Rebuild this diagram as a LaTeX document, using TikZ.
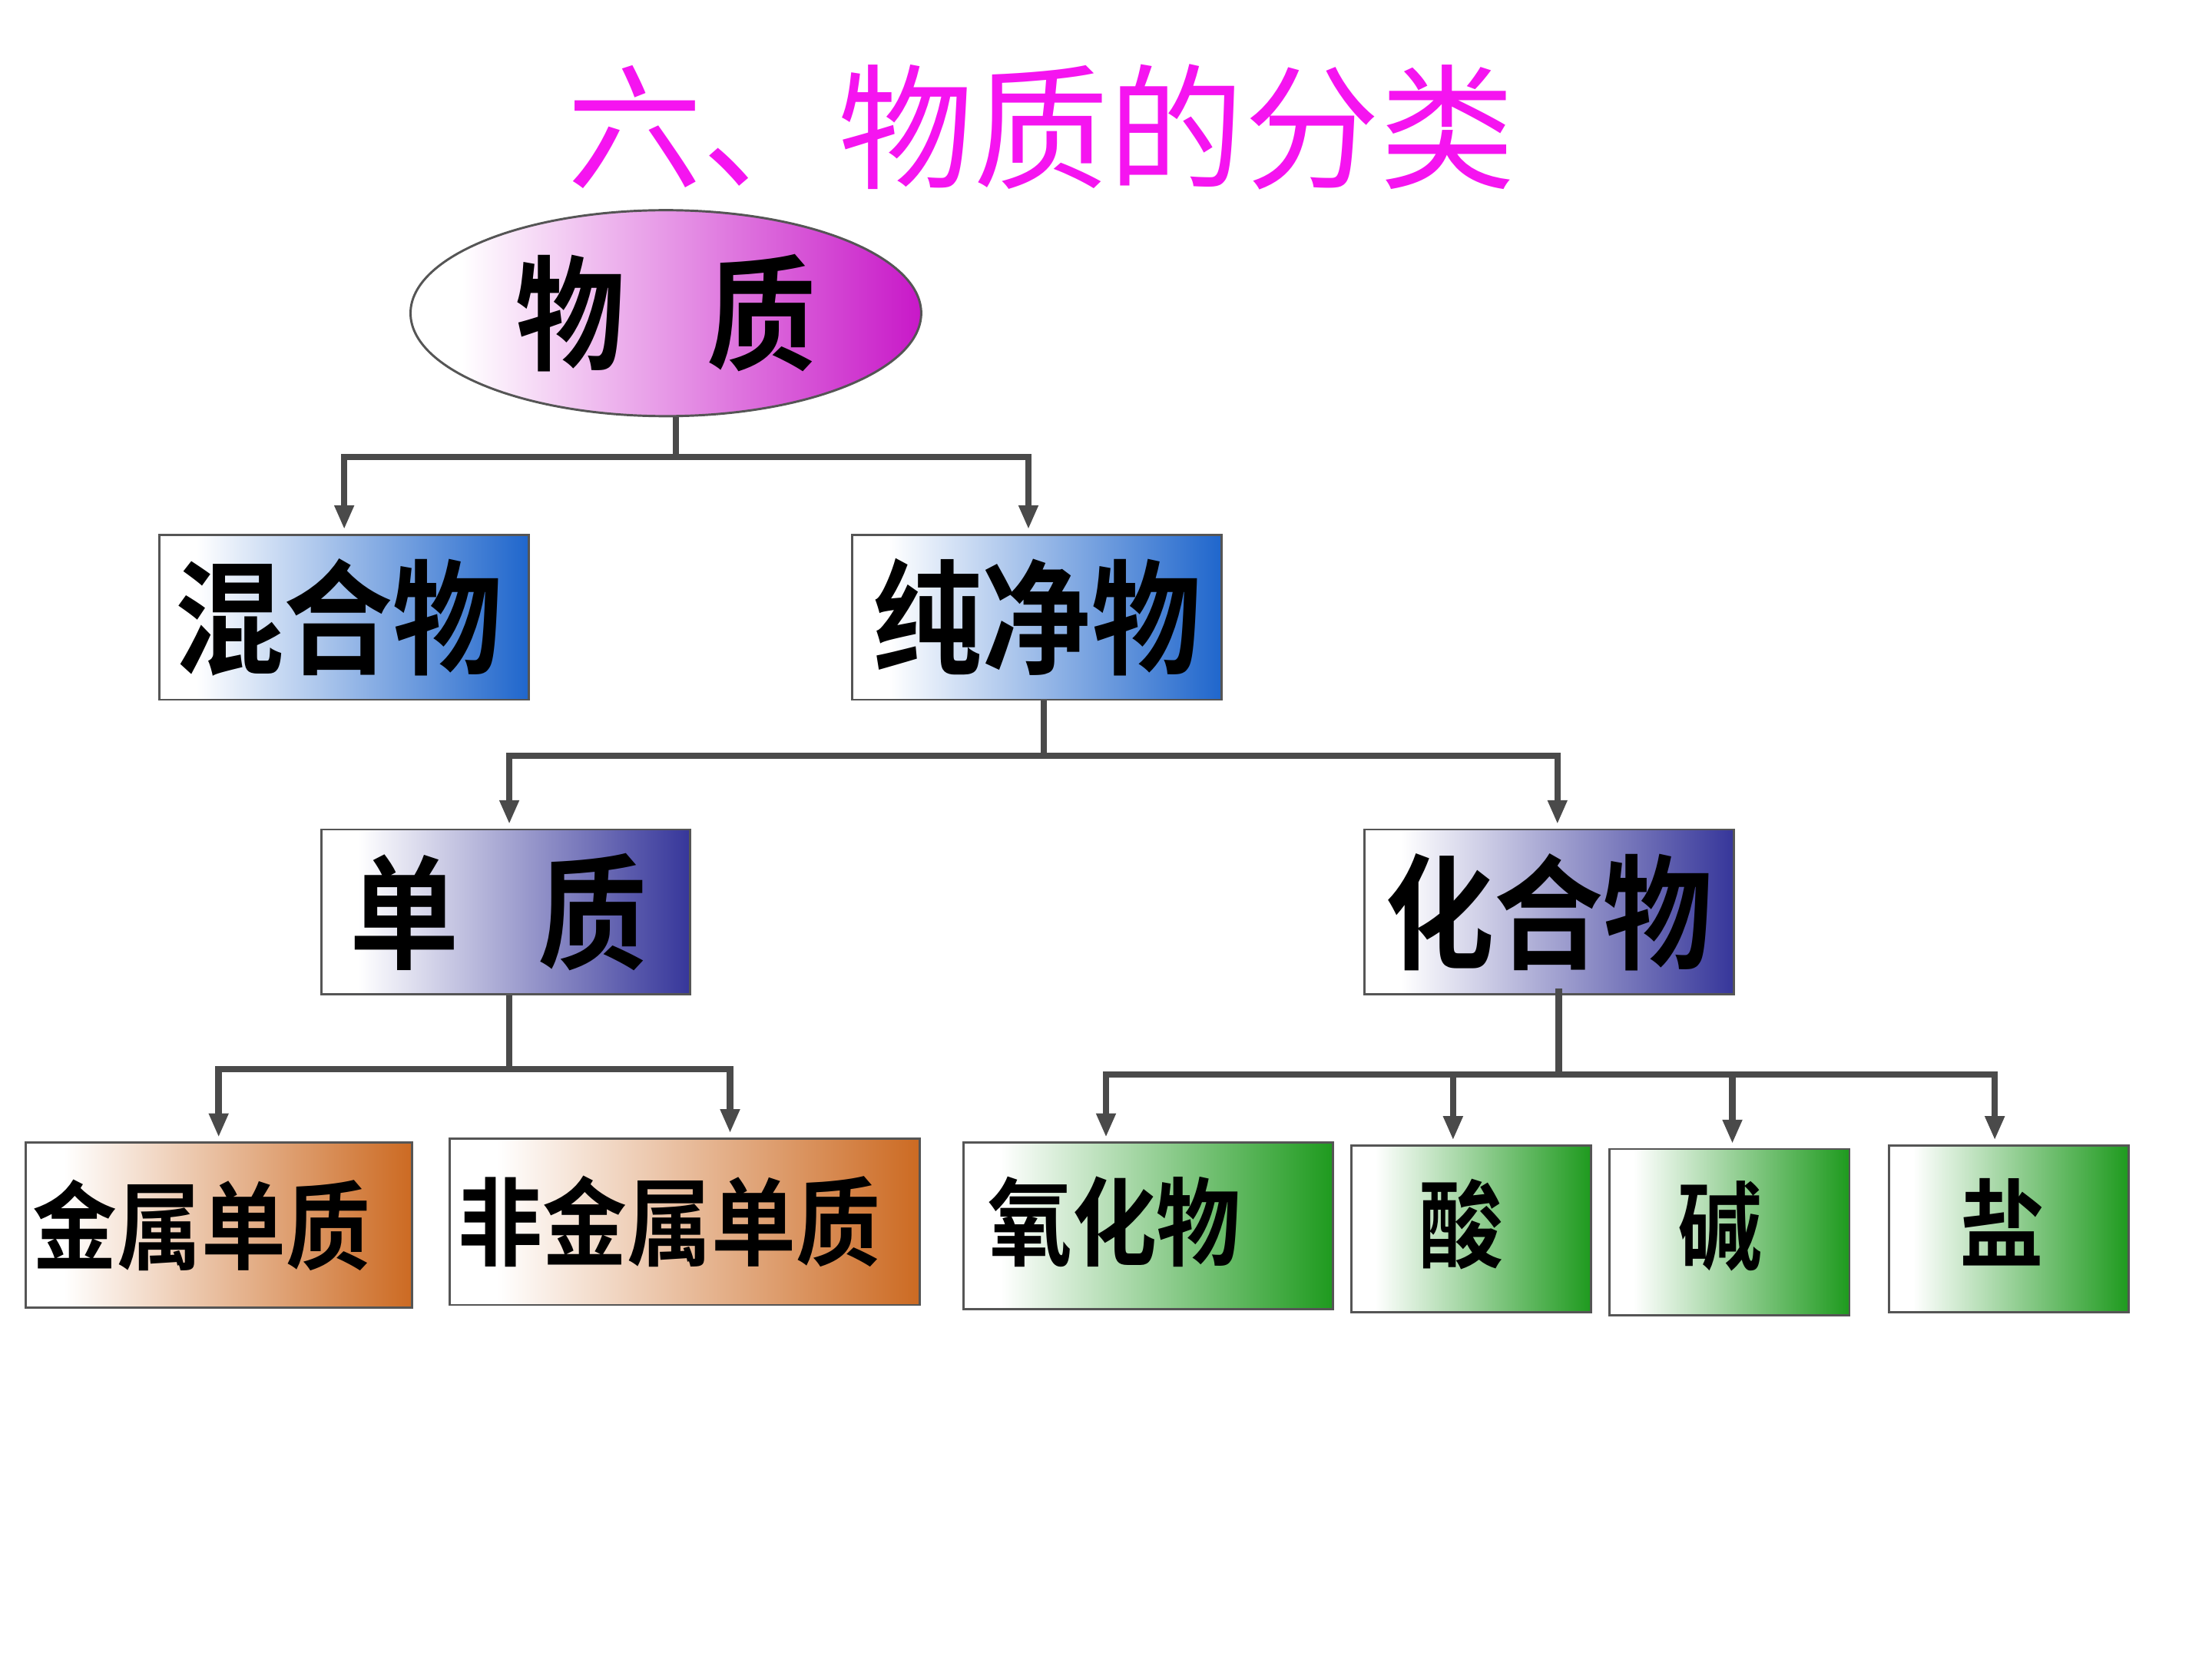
\documentclass[tikz,border=0pt]{standalone}
\usepackage{fontspec}
\usepackage{xcolor}
\newfontfamily\heiti{Noto Sans CJK SC}[BoldFont={* Bold},FakeStretch=0.88]
\newfontfamily\titlefont{Noto Sans CJK SC}
\usetikzlibrary{positioning,arrows.meta,shapes.geometric}
\definecolor{linegray}{HTML}{4A4A4A}
\definecolor{framegray}{HTML}{555555}
\definecolor{titlemag}{HTML}{F514F0}
\definecolor{matmag}{HTML}{C818C8}
\definecolor{pureblue}{HTML}{1F66CC}
\definecolor{indigo}{HTML}{36369A}
\definecolor{rust}{HTML}{CC6A22}
\definecolor{leaf}{HTML}{1E9A1E}
\colorlet{tint}{white}
\pgfdeclarehorizontalshading[tint]{fade}{100bp}{color(0bp)=(white); color(30bp)=(white);
    color(75bp)=(tint); color(100bp)=(tint)}

\begin{document}
\begin{tikzpicture}[x=0.5pt, y=-0.5pt,
    fadeto/.code={\colorlet{tint}{#1}\tikzset{shading=fade}},
    box/.style={draw=framegray, line width=0.8pt, inner sep=0pt, minimum height=58.5pt,
        font=\heiti\bfseries\fontsize{44}{44}\selectfont},
    small/.style={font=\heiti\bfseries\fontsize{34}{34}\selectfont},
    bar/.style={draw=linegray, line width=2.3pt},
    arr/.style={bar, -{Triangle[length=8.5pt,width=6.5pt]}, shorten >=1.5pt}]

    \useasboundingbox (0,0) rectangle (1568,1176);

    \node[font=\titlefont\fontsize{48}{48}\selectfont, text=titlemag] (title) at (738,90) {六、物质的分类};

    \node[box, ellipse, fadeto=matmag,
        minimum width=181pt, minimum height=73pt] (matter) at (472,222) {物\hspace{29pt}质};

    \node[box, fadeto=pureblue, minimum width=131pt] (mix) at (244,437.5) {混合物\kern4pt};
    \node[box, fadeto=pureblue, minimum width=131pt] (pure) at (735,437.5) {纯净物};

    \node[box, fadeto=indigo, minimum width=130.5pt] (elem) at (358.5,646.5) {单\hspace{28pt}质\kern5pt};
    \node[box, fadeto=indigo, minimum width=131pt] (comp) at (1098,646.5) {化合物};

    \node[box, small, fadeto=rust, minimum width=137pt] (metal) at (155,868.5) {金属单质\kern12pt};
    \node[box, small, fadeto=rust, minimum width=166.5pt, minimum height=59pt] (nonmetal) at (485.5,866) {非金属单质\kern11pt};

    \node[box, small, fadeto=leaf, minimum width=131pt, minimum height=59pt] (oxide) at (814,869) {\raisebox{6pt}{氧化物}\kern24pt};
    \node[box, small, fadeto=leaf, minimum width=85pt, minimum height=59pt] (acid) at (1043,871) {\raisebox{6.5pt}{酸}\kern7pt};
    \node[box, small, fadeto=leaf, minimum width=85pt, minimum height=59pt] (base) at (1226,873.5) {\raisebox{7.5pt}{碱}\kern7pt};
    \node[box, small, fadeto=leaf, minimum width=85pt, minimum height=59pt] (salt) at (1424,871) {\raisebox{6.5pt}{盐}\kern5pt};

    % matter -> mixture / pure substance
    \draw[bar] ([xshift=3.5pt]matter.south) -- ++(0,28) coordinate (b1);
    \draw[arr] (b1) -| (mix.north);
    \draw[arr] (b1) -| ([xshift=-3pt]pure.north);

    % pure substance -> element / compound
    \draw[bar] ([xshift=2.5pt]pure.south) -- ++(0,39) coordinate (b2);
    \draw[arr] (b2) -| ([xshift=1.25pt]elem.north);
    \draw[arr] (b2) -| ([xshift=3pt]comp.north);

    % element -> metal / nonmetal
    \draw[bar] ([xshift=1.25pt]elem.south) -- ++(0,52) coordinate (b3);
    \draw[arr] (b3) -| (metal.north);
    \draw[arr] (b3) -| ([xshift=16pt]nonmetal.north);

    % compound -> oxide, acid, base, salt
    \draw[bar] ([xshift=3.5pt,yshift=2.5pt]comp.south) -- ++(0,61) coordinate (b4);
    \draw[arr] (b4) -| ([xshift=-15pt]oxide.north);
    \draw[arr] (b4) -| ([xshift=-6.5pt]acid.north);
    \draw[arr] (b4) -| ([xshift=1pt]base.north);
    \draw[arr] (b4) -| ([xshift=-5pt]salt.north);

\end{tikzpicture}
\end{document}
